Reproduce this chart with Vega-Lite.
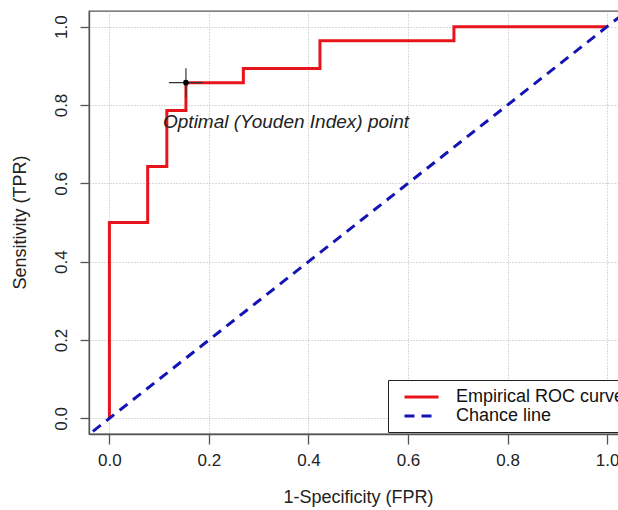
{
  "$schema": "https://vega.github.io/schema/vega-lite/v6.json",
  "autosize": "none",
  "width": 530,
  "height": 423,
  "padding": {"left": 89, "top": 11, "right": 0, "bottom": 76},
  "background": "white",
  "config": {
    "font": "Liberation Sans",
    "view": {"stroke": "#555555", "strokeWidth": 1.3},
    "axis": {
      "grid": true,
      "gridColor": "#b4b4b4",
      "gridDash": [1, 2],
      "gridWidth": 1,
      "domainColor": "#555555",
      "domainWidth": 1.3,
      "tickColor": "#555555",
      "tickWidth": 1.3,
      "labelFont": "Liberation Sans",
      "labelFontSize": 17,
      "labelColor": "#222222",
      "titleFont": "Liberation Sans",
      "titleFontSize": 18,
      "titleFontWeight": "normal",
      "titleColor": "#222222"
    },
    "legend": {
      "title": null,
      "orient": "none",
      "legendX": 299,
      "legendY": 369,
      "fillColor": "white",
      "strokeColor": "#222222",
      "padding": 7,
      "symbolOffset": 8,
      "symbolType": "M-1,0H3",
      "symbolSize": 289,
      "symbolStrokeWidth": 3,
      "labelFont": "Liberation Sans",
      "labelFontSize": 18,
      "labelColor": "#111111",
      "labelOffset": 33,
      "labelLimit": 400,
      "rowPadding": 0,
      "cornerRadius": 0
    }
  },
  "datasets": {
    "roc": [
      {"i": 0, "fpr": 0, "tpr": 0, "series": "Empirical ROC curve"},
      {"i": 1, "fpr": 0, "tpr": 0.5, "series": "Empirical ROC curve"},
      {"i": 2, "fpr": 0.0769, "tpr": 0.643, "series": "Empirical ROC curve"},
      {"i": 3, "fpr": 0.1154, "tpr": 0.786, "series": "Empirical ROC curve"},
      {"i": 4, "fpr": 0.1538, "tpr": 0.857, "series": "Empirical ROC curve"},
      {"i": 5, "fpr": 0.2692, "tpr": 0.893, "series": "Empirical ROC curve"},
      {"i": 6, "fpr": 0.4231, "tpr": 0.964, "series": "Empirical ROC curve"},
      {"i": 7, "fpr": 0.6923, "tpr": 1, "series": "Empirical ROC curve"},
      {"i": 8, "fpr": 1, "tpr": 1, "series": "Empirical ROC curve"}
    ],
    "chance": [
      {"i": 0, "fpr": -0.06, "tpr": -0.06, "series": "Chance line"},
      {"i": 1, "fpr": 1.06, "tpr": 1.06, "series": "Chance line"}
    ],
    "cross": [
      {"x1": 0.1196, "x2": 0.188, "y1": 0.857, "y2": 0.857},
      {"x1": 0.1538, "x2": 0.1538, "y1": 0.82, "y2": 0.894}
    ],
    "opt": [{"fpr": 0.1538, "tpr": 0.857}],
    "note": [{"fpr": 0.355, "tpr": 0.756, "text": "Optimal (Youden Index) point"}]
  },
  "layer": [
    {
      "data": {"name": "roc"},
      "mark": {"type": "line", "interpolate": "step-after", "strokeWidth": 3, "clip": true},
      "encoding": {
        "x": {
          "field": "fpr", "type": "quantitative",
          "scale": {"domain": [-0.041, 1.024], "nice": false, "zero": false},
          "axis": {
            "values": [0, 0.2, 0.4, 0.6, 0.8, 1.0],
            "format": ".1f",
            "tickSize": 10,
            "labelPadding": 8,
            "labelBaseline": "top",
            "title": "1-Specificity (FPR)",
            "titleX": 269,
            "titleY": 63,
            "titleAlign": "center",
            "titleBaseline": "middle"
          }
        },
        "y": {
          "field": "tpr", "type": "quantitative",
          "scale": {"domain": [-0.04, 1.04], "nice": false, "zero": false},
          "axis": {
            "values": [0, 0.2, 0.4, 0.6, 0.8, 1.0],
            "format": ".1f",
            "tickSize": 9,
            "labelPadding": 19,
            "labelAngle": -90,
            "labelAlign": "center",
            "labelBaseline": "middle",
            "title": "Sensitivity (TPR)",
            "titleX": -69,
            "titleY": 211,
            "titleAngle": -90,
            "titleAlign": "center",
            "titleBaseline": "middle"
          }
        },
        "order": {"field": "i", "type": "quantitative"},
        "color": {
          "field": "series", "type": "nominal",
          "scale": {"domain": ["Empirical ROC curve", "Chance line"], "range": ["#e8141c", "#1414b4"]},
          "legend": {"title": null}
        },
        "strokeDash": {
          "field": "series", "type": "nominal",
          "scale": {"domain": ["Empirical ROC curve", "Chance line"], "range": [[1, 0], [10, 7]]},
          "legend": {"title": null}
        }
      }
    },
    {
      "data": {"name": "chance"},
      "mark": {"type": "line", "strokeWidth": 3, "clip": true},
      "encoding": {
        "x": {"field": "fpr", "type": "quantitative"},
        "y": {"field": "tpr", "type": "quantitative"},
        "order": {"field": "i", "type": "quantitative"},
        "color": {"field": "series", "type": "nominal"},
        "strokeDash": {"field": "series", "type": "nominal"}
      }
    },
    {
      "data": {"name": "cross"},
      "mark": {"type": "rule", "color": "#333333", "strokeWidth": 1.2},
      "encoding": {
        "x": {"field": "x1", "type": "quantitative"},
        "x2": {"field": "x2"},
        "y": {"field": "y1", "type": "quantitative"},
        "y2": {"field": "y2"}
      }
    },
    {
      "data": {"name": "opt"},
      "mark": {"type": "circle", "color": "black", "size": 32, "opacity": 1},
      "encoding": {
        "x": {"field": "fpr", "type": "quantitative"},
        "y": {"field": "tpr", "type": "quantitative"}
      }
    },
    {
      "data": {"name": "note"},
      "mark": {"type": "text", "font": "Liberation Sans", "fontStyle": "italic", "fontSize": 19, "color": "#222222", "align": "center", "baseline": "middle"},
      "encoding": {
        "x": {"field": "fpr", "type": "quantitative"},
        "y": {"field": "tpr", "type": "quantitative"},
        "text": {"field": "text"}
      }
    }
  ]
}
